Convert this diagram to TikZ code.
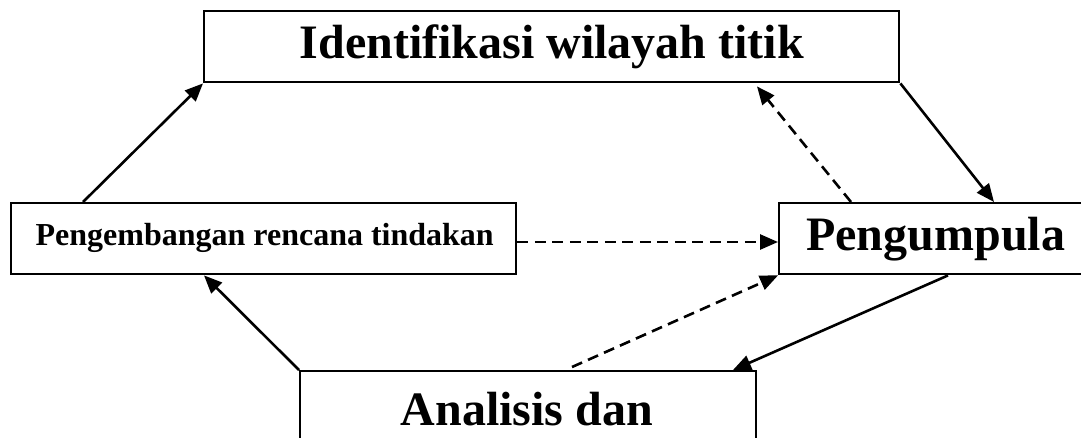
\documentclass[tikz,border=0pt]{standalone}
\usepackage{fontspec}
\setmainfont{Liberation Serif}
\usetikzlibrary{arrows.meta,calc}

\tikzset{
  box/.style={draw, line width=2.4pt, inner sep=0pt, anchor=north west},
  big/.style={font=\bfseries\fontsize{48}{50}\selectfont},
  small/.style={font=\bfseries\fontsize{32}{34}\selectfont},
  flow/.style={line width=2.6pt, -{Triangle[length=18pt,width=15pt]}},
  hint/.style={flow, dash pattern=on 11pt off 6.5pt},
}

\begin{document}
\begin{tikzpicture}[x=1pt, y=-1pt]
  \useasboundingbox (0,0) rectangle (1081,437);
  \clip (0,0) rectangle (1081,437);

  % the four stages of the cycle
  \node[box, minimum width=695pt, minimum height=71pt] (T) at (203,10) {};
  \node[big] at (T.center) {Identifikasi wilayah titik};

  \node[box, minimum width=505pt, minimum height=71pt] (L) at (10,202) {};
  \node[small] at ($(L.center)+(1,-1)$) {Pengembangan rencana tindakan};

  \node[box, minimum width=313pt, minimum height=71pt] (R) at (778,202) {};
  \node[big] at (R.center) {Pengumpula};

  \node[box, minimum width=456pt, minimum height=100pt] (B) at (299,370) {};
  \node[big, anchor=base] at (527,425) {Analisis dan};

  % solid cycle
  \draw[flow] ($(L.north west)+(73,0)$) -- (T.south west);
  \draw[flow] (T.south east) -- ($(R.north west)+(216,0)$);
  \draw[flow] ($(R.south west)+(170,0)$) -- ($(B.north west)+(434,0)$);
  \draw[flow] (B.north west) -- ($(L.south west)+(194,0)$);

  % dashed links
  \draw[hint] ($(R.north west)+(73,0)$) -- ($(T.south west)+(554,3)$);
  \draw[hint] ($(L.north east)+(0,40)$) -- ($(R.north west)+(0,40)$);
  \draw[hint] ($(B.north west)+(273,-3)$) -- (R.south west);
\end{tikzpicture}
\end{document}
